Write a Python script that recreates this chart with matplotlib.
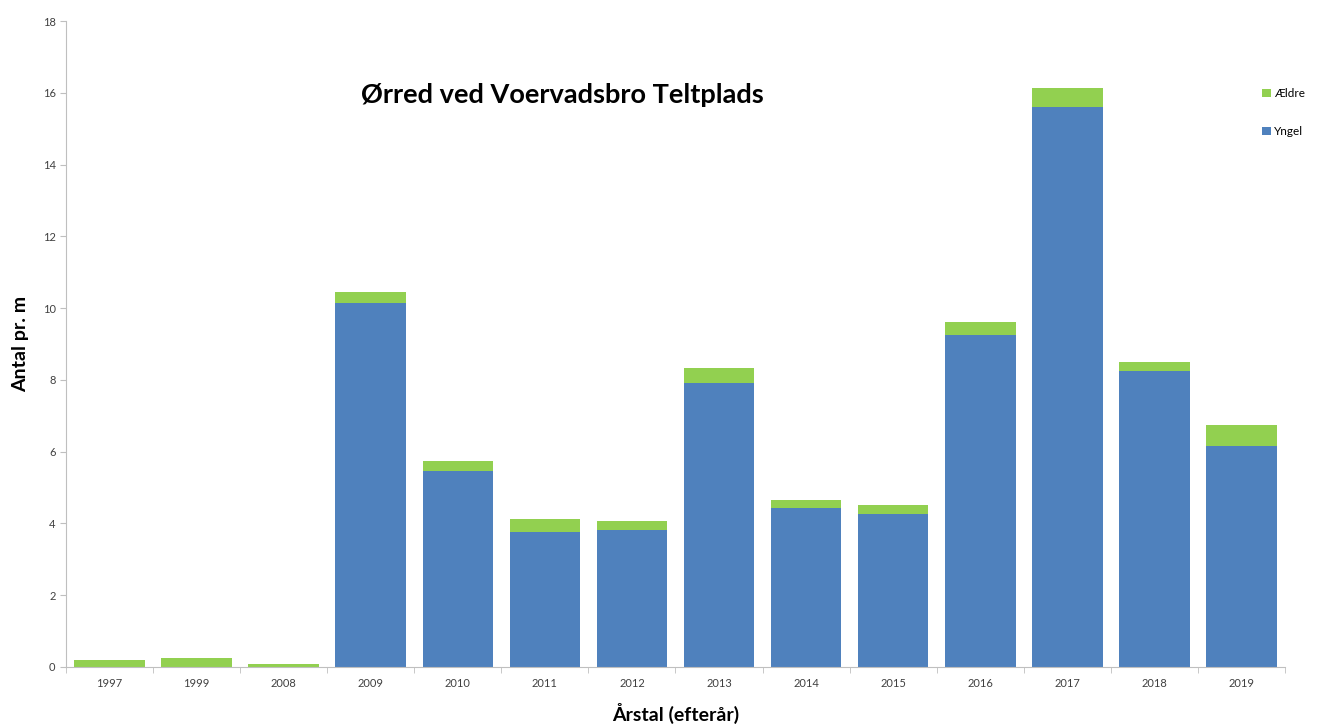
import matplotlib.pyplot as plt
import numpy as np

plt.rcParams['font.family'] = ['Lato', 'DejaVu Sans']

years = ['1997', '1999', '2008', '2009', '2010', '2011', '2012',
         '2013', '2014', '2015', '2016', '2017', '2018', '2019']
yngel = [0, 0, 0, 10.14, 5.46, 3.76, 3.82, 7.91, 4.43, 4.26, 9.25, 15.6, 8.25, 6.16]
aeldre = [0.2, 0.25, 0.08, 0.31, 0.28, 0.36, 0.25, 0.42, 0.22, 0.25, 0.36, 0.53, 0.25, 0.58]

blue = '#4F81BD'
green = '#92D050'

fig = plt.figure(figsize=(13.17, 7.26), dpi=100)
ax = fig.add_axes([0.0501, 0.0813, 0.9256, 0.8897])

x = np.arange(len(years))
b1 = ax.bar(x, yngel, width=0.81, color=blue, label='Yngel')
b2 = ax.bar(x, aeldre, width=0.81, bottom=yngel, color=green, label='Ældre')

ax.set_xlim(-0.5, len(years) - 0.5)
ax.set_ylim(0, 18)
ax.set_yticks(range(0, 19, 2))
ax.set_xticks(x)
ax.set_xticklabels(years)
ax.set_xticks(np.arange(-0.5, len(years), 1), minor=True)
ax.tick_params(axis='x', which='major', length=0, labelsize=8, colors='#404040', pad=8)
ax.tick_params(axis='x', which='minor', length=4, color='#BFBFBF')
ax.tick_params(axis='y', length=4, color='#BFBFBF', labelsize=8, labelcolor='#404040')

for s in ['top', 'right']:
    ax.spines[s].set_visible(False)
for s in ['left', 'bottom']:
    ax.spines[s].set_color('#BFBFBF')

ax.set_xlabel('Årstal (efterår)', fontsize=14, fontweight='bold', labelpad=10)
ax.set_ylabel('Antal pr. m', fontsize=14, fontweight='bold', labelpad=10)

ax.text(5.2, 15.95, 'Ørred ved Voervadsbro Teltplads', fontsize=19.5,
        fontweight='bold', ha='center', va='center')

fig.legend([b2, b1], ['Ældre', 'Yngel'], loc='upper left',
           bbox_to_anchor=(0.955, 0.885), frameon=False, fontsize=8.5,
           handlelength=0.7, handleheight=0.7, handletextpad=0.3,
           labelspacing=2.3, borderaxespad=0)

fig.savefig('out.png', dpi=100)
